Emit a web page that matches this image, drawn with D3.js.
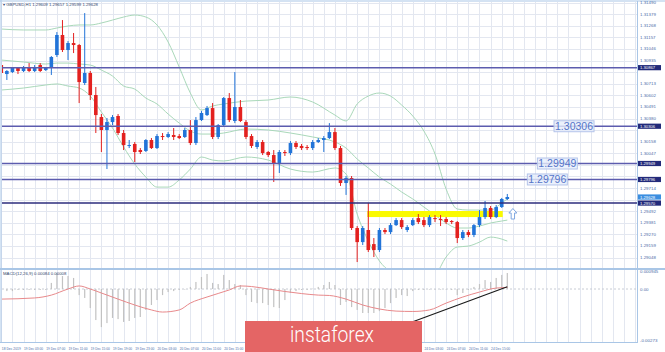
<!DOCTYPE html>
<html lang="en">
  <head>
    <meta charset="utf-8" />
    <title>GBPUSD H1</title>
    <script src="https://d3js.org/d3.v7.min.js"></script>
    <style>
      body {
        margin: 0;
        background-color: #ffffff;
        font-family: "Liberation Sans", Arial, sans-serif;
      }
      svg {
        display: block;
      }
    </style>
  </head>
  <body>
    <div id="chart"></div>
    <script>
      // hourly candles, GBPUSD
      const open = [1.30892,1.30806,1.30825,1.30864,1.30835,1.30873,1.30835,1.30892,1.30844,1.30864,
        1.30988,1.31180,1.31036,1.31103,1.31084,1.30720,1.30816,1.30605,1.30394,1.30270,
        1.30346,1.30404,1.30241,1.30117,1.30136,1.30078,1.30069,1.30174,1.30097,1.30212,
        1.30203,1.30222,1.30212,1.30203,1.30270,1.30145,1.30365,1.30413,1.30480,1.30203,
        1.30317,1.30576,1.30356,1.30490,1.30346,1.30212,1.30107,1.30155,1.30059,1.30030,
        1.29954,1.30059,1.30049,1.30145,1.30117,1.30107,1.30097,1.30155,1.30174,1.30193,
        1.30250,1.30097,1.29762,1.29810,1.29331,1.29196,1.29312,1.29177,1.29120,1.29312,
        1.29292,1.29359,1.29407,1.29312,1.29359,1.29426,1.29407,1.29359,1.29426,1.29417,
        1.29417,1.29398,1.29388,1.29235,1.29292,1.29264,1.29359,1.29436,1.29523,1.29436,
        1.29532,1.29609];
      const high = [1.30902,1.30844,1.30873,1.30873,1.30883,1.30911,1.30892,1.30911,1.30873,1.30978,
        1.31208,1.31323,1.31122,1.31199,1.31093,1.31390,1.30835,1.30682,1.30423,1.30385,
        1.30413,1.30423,1.30270,1.30174,1.30155,1.30097,1.30183,1.30193,1.30231,1.30241,
        1.30250,1.30289,1.30231,1.30289,1.30365,1.30394,1.30452,1.30500,1.30528,1.30327,
        1.30586,1.30624,1.30825,1.30557,1.30365,1.30231,1.30174,1.30174,1.30069,1.30078,
        1.30078,1.30078,1.30164,1.30164,1.30136,1.30126,1.30174,1.30193,1.30212,1.30336,
        1.30289,1.30117,1.29829,1.29829,1.29350,1.29350,1.29571,1.29235,1.29331,1.29331,
        1.29379,1.29426,1.29426,1.29359,1.29426,1.29465,1.29436,1.29455,1.29455,1.29455,
        1.29436,1.29407,1.29398,1.29312,1.29312,1.29369,1.29503,1.29590,1.29542,1.29551,
        1.29619,1.29657];
      const low = [1.30806,1.30749,1.30816,1.30806,1.30825,1.30825,1.30825,1.30825,1.30835,1.30797,
        1.30969,1.31017,1.30940,1.31007,1.30528,1.30701,1.30557,1.30241,1.30059,1.29896,
        1.30317,1.30222,1.30078,1.30097,1.29963,1.30040,1.30059,1.30088,1.30088,1.30174,
        1.30193,1.30174,1.30183,1.30193,1.30126,1.30126,1.30356,1.30404,1.30183,1.30183,
        1.30308,1.30346,1.30336,1.30346,1.30183,1.30097,1.30088,1.30030,1.30011,1.29772,
        1.29858,1.30021,1.30030,1.30088,1.30078,1.30078,1.30078,1.30145,1.30059,1.30183,
        1.30078,1.29734,1.29648,1.29312,1.29005,1.29168,1.29101,1.29053,1.29101,1.29273,
        1.29273,1.29350,1.29321,1.29292,1.29350,1.29369,1.29340,1.29340,1.29388,1.29350,
        1.29369,1.29369,1.29187,1.29216,1.29244,1.29244,1.29340,1.29417,1.29417,1.29426,
        1.29523,1.29599];
      const close = [1.30816,1.30835,1.30864,1.30835,1.30864,1.30835,1.30873,1.30835,1.30864,1.30969,
        1.31180,1.31036,1.31103,1.31084,1.30729,1.30816,1.30605,1.30413,1.30270,1.30346,
        1.30394,1.30241,1.30126,1.30126,1.30059,1.30059,1.30174,1.30097,1.30212,1.30203,
        1.30231,1.30203,1.30193,1.30270,1.30145,1.30365,1.30433,1.30480,1.30203,1.30317,
        1.30576,1.30365,1.30490,1.30356,1.30203,1.30117,1.30155,1.30049,1.30030,1.29954,
        1.30059,1.30049,1.30145,1.30107,1.30097,1.30097,1.30155,1.30174,1.30193,1.30250,
        1.30097,1.29762,1.29810,1.29331,1.29196,1.29331,1.29120,1.29120,1.29312,1.29292,
        1.29359,1.29407,1.29340,1.29340,1.29407,1.29388,1.29359,1.29436,1.29417,1.29407,
        1.29388,1.29388,1.29235,1.29292,1.29264,1.29359,1.29436,1.29523,1.29436,1.29532,
        1.29609,1.29628];

      // Bollinger bands, read at these candles
      const bandIdx = [0,4,8,10,12,14,16,18,20,22,24,26,28,30,32,34,36,38,40,44,
        48,52,56,60,62,64,66,68,70,72,74,76,78,80,82,84,86,88,90,91];
      const bbUpper = [1.31237,1.31228,1.31228,1.31247,1.31266,1.31276,1.31276,1.31295,1.31323,1.31352,
        1.31371,1.31352,1.31276,1.31113,1.30873,1.30624,1.30461,1.30500,1.30519,1.30547,
        1.30557,1.30586,1.30538,1.30413,1.30356,1.30519,1.30595,1.30624,1.30595,1.30509,
        1.30404,1.30260,1.30040,1.29704,1.29513,1.29503,1.29503,1.29503,1.29571,1.29609];
      const bbMiddle = [1.30940,1.30921,1.30902,1.30911,1.30911,1.30902,1.30892,1.30844,1.30787,1.30691,
        1.30662,1.30576,1.30519,1.30423,1.30336,1.30260,1.30231,1.30231,1.30241,1.30279,
        1.30270,1.30241,1.30203,1.30155,1.30097,1.29992,1.29906,1.29819,1.29752,1.29676,
        1.29609,1.29532,1.29455,1.29379,1.29331,1.29331,1.29350,1.29379,1.29398,1.29407];
      const bbLower = [1.30653,1.30672,1.30701,1.30711,1.30691,1.30672,1.30595,1.30442,1.30289,1.30107,
        1.29944,1.29819,1.29723,1.29723,1.29791,1.29896,1.30011,1.29982,1.29973,1.30011,
        1.29982,1.29896,1.29867,1.29906,1.29848,1.29465,1.29206,1.29015,1.28909,1.28842,
        1.28804,1.28804,1.28871,1.29053,1.29149,1.29158,1.29196,1.29244,1.29225,1.29206];

      const levels = [1.30867, 1.30306, 1.29949, 1.29796, 1.29570];
      const levelTags = ["1.30306", "1.29949", "1.29796"];
      const zoneIdx = [66, 90];
      const zonePrice = [1.29494, 1.29436];

      const priceTicks = [1.31490,1.31379,1.31268,1.31157,1.31046,1.30935,1.30824,1.30713,1.30602,1.30491,
        1.30380,1.30269,1.30158,1.30047,1.29936,1.29825,1.29714,1.29603,1.29492,1.29381,
        1.29270,1.29159,1.29048];

      // MACD(12,26,9): main as histogram, signal as line
      const macdHist = [-0.00016,-0.00011,-0.00011,-0.00005,-0.00005,-0.00005,-0.00005,-0.00005,-0.00005,0.00032,
        0.00084,0.00068,0.00068,0.00058,-0.00032,-0.00047,-0.00100,-0.00163,-0.00200,-0.00179,
        -0.00152,-0.00158,-0.00173,-0.00168,-0.00152,-0.00147,-0.00110,-0.00084,-0.00058,-0.00032,
        -0.00016,-0.00011,-0.00005,-0.00003,0.00011,0.00037,0.00063,0.00079,0.00032,0.00026,
        0.00074,0.00047,0.00026,0.00021,-0.00032,-0.00068,-0.00074,-0.00074,-0.00084,-0.00095,
        -0.00100,-0.00058,-0.00021,-0.00011,-0.00005,-0.00005,0.00002,0.00011,0.00021,0.00037,
        0.00021,-0.00084,-0.00068,-0.00095,-0.00110,-0.00126,-0.00126,-0.00126,-0.00116,-0.00100,
        -0.00074,-0.00047,-0.00032,-0.00037,-0.00011,-0.00005,-0.00005,-0.00003,-0.00003,-0.00003,
        -0.00003,-0.00005,-0.00032,-0.00021,-0.00005,0.00011,0.00026,0.00047,0.00037,0.00058,
        0.00074,0.00084];
      const signalIdx = [0,6,9,12,14,16,18,21,24,27,29,32,34,37,41,43,45,48,51,54,
        57,59,62,65,68,71,74,77,80,83,86,89,91];
      const macdSignal = [-0.00053,-0.00047,-0.00032,0.00000,0.00016,0.00000,-0.00021,-0.00053,-0.00084,-0.00110,
        -0.00121,-0.00110,-0.00074,-0.00042,-0.00005,0.00016,0.00013,0.00000,-0.00013,-0.00024,
        -0.00032,-0.00034,-0.00053,-0.00084,-0.00105,-0.00116,-0.00118,-0.00110,-0.00074,-0.00042,
        -0.00016,0.00005,0.00008];
      const trendIdx = [70, 91];
      const trendVal = [-0.00215, 0.00012];

      const timeIdx = [0,4,8,12,16,20,24,28,32,36,40,44,48,52,56,60,64,68,72,76,80,84,88];
      const timeLabels = ["18 Dec 2019","19 Dec 03:00","19 Dec 07:00","19 Dec 11:00","19 Dec 15:00",
        "19 Dec 19:00","19 Dec 23:00","20 Dec 03:00","20 Dec 07:00","20 Dec 11:00","20 Dec 15:00",
        "20 Dec 19:00","20 Dec 23:00","23 Dec 03:00","23 Dec 07:00","23 Dec 11:00","23 Dec 15:00",
        "23 Dec 19:00","23 Dec 23:00","24 Dec 03:00","24 Dec 07:00","24 Dec 11:00","24 Dec 15:00"];

      const width = 665, height = 352;
      const axisX = 637;

      const svg = d3
        .select("#chart")
        .append("svg")
        .attr("width", width)
        .attr("height", height);

      svg.append("rect").attr("width", width).attr("height", height).attr("fill", "#ffffff");

      const x = d3.scaleLinear().domain([0, 91]).range([1.3, 507.3]);
      const y = d3.scaleLinear().domain([1.28948, 1.31496]).range([268, 2]);
      const ym = d3.scaleLinear().domain([-0.00273, 0.000945]).range([341, 271]);

      const defs = svg.append("defs");
      defs.append("clipPath").attr("id", "clipMain")
        .append("rect").attr("x", 2).attr("y", 2).attr("width", axisX - 2).attr("height", 266);
      defs.append("clipPath").attr("id", "clipMacd")
        .append("rect").attr("x", 2).attr("y", 270).attr("width", axisX - 2).attr("height", 72);

      // grid
      const grid = svg.append("g").attr("stroke", "#e3e7f0").attr("stroke-width", 1);
      grid.selectAll(".gv")
        .data(d3.range(0, 116, 2))
        .join("line")
        .attr("x1", (d) => Math.round(x(d)) + 0.5)
        .attr("x2", (d) => Math.round(x(d)) + 0.5)
        .attr("y1", 2)
        .attr("y2", 342);
      grid.selectAll(".gh")
        .data(priceTicks)
        .join("line")
        .attr("x1", 2)
        .attr("x2", axisX)
        .attr("y1", (d) => Math.round(y(d)) + 0.5)
        .attr("y2", (d) => Math.round(y(d)) + 0.5);

      const main = svg.append("g").attr("clip-path", "url(#clipMain)");

      // bollinger bands
      const bandLine = d3.line()
        .x((d) => x(d[0]))
        .y((d) => y(d[1]))
        .curve(d3.curveMonotoneX);
      [bbUpper, bbMiddle, bbLower].forEach((band) => {
        main.append("path")
          .datum(bandIdx.map((d, i) => [d, band[i]]))
          .attr("d", bandLine)
          .attr("fill", "none")
          .attr("stroke", "#a9d8b9")
          .attr("stroke-width", 1);
      });

      // yellow zone
      main.append("rect")
        .attr("x", x(zoneIdx[0]) - 1)
        .attr("y", y(zonePrice[0]))
        .attr("width", x(zoneIdx[1]) - x(zoneIdx[0]) + 2)
        .attr("height", y(zonePrice[1]) - y(zonePrice[0]))
        .attr("fill", "#fafa00");

      // candles
      const candles = main.selectAll(".candle")
        .data(d3.range(open.length))
        .join("g");
      const col = (i) => (close[i] >= open[i] ? "#2274d8" : "#e3211f");
      candles.append("line")
        .attr("x1", (i) => x(i))
        .attr("x2", (i) => x(i))
        .attr("y1", (i) => y(high[i]))
        .attr("y2", (i) => y(low[i]))
        .attr("stroke", col)
        .attr("stroke-width", 1);
      candles.append("rect")
        .attr("x", (i) => x(i) - 1.8)
        .attr("width", 3.6)
        .attr("y", (i) => y(Math.max(open[i], close[i])))
        .attr("height", (i) => Math.max(1, Math.abs(y(open[i]) - y(close[i]))))
        .attr("fill", col);

      // horizontal levels
      main.selectAll(".level")
        .data(levels)
        .join("line")
        .attr("x1", 2)
        .attr("x2", axisX)
        .attr("y1", (d) => y(d))
        .attr("y2", (d) => y(d))
        .attr("stroke", (d, i) => (i === 4 ? "#2c2c7c" : "#5c5cae"))
        .attr("stroke-width", 1.5);

      // level tags
      const tagAt = [103, 100, 98.2];
      levelTags.forEach((t, i) => {
        const cx = x(tagAt[i]);
        const cy = y(levels[i + 1]);
        svg.append("rect")
          .attr("x", cx - 20)
          .attr("y", cy - 5.5)
          .attr("width", 40)
          .attr("height", 11)
          .attr("fill", "#e6edfb")
          .attr("fill-opacity", 0.8)
          .attr("stroke", "#b4c4ea")
          .attr("stroke-width", 1);
        svg.append("text")
          .attr("x", cx)
          .attr("y", cy + 3.8)
          .attr("text-anchor", "middle")
          .style("font-size", "10.5px")
          .style("fill", "#5575c8")
          .text(t);
      });

      // arrow
      const ax = x(92), ay = y(1.29465);
      svg.append("path")
        .attr("d", `M${ax},${ay - 5.5} L${ax + 4},${ay - 1} L${ax + 1.7},${ay - 1} L${ax + 1.7},${ay + 5} L${ax - 1.7},${ay + 5} L${ax - 1.7},${ay - 1} L${ax - 4},${ay - 1} Z`)
        .attr("fill", "#ffffff")
        .attr("stroke", "#7fa7e0")
        .attr("stroke-width", 1);

      // MACD panel
      const macd = svg.append("g").attr("clip-path", "url(#clipMacd)");
      macd.append("line")
        .attr("x1", 2).attr("x2", axisX)
        .attr("y1", ym(0)).attr("y2", ym(0))
        .attr("stroke", "#c8ccd4")
        .attr("stroke-dasharray", "2,2");
      macd.selectAll(".bar")
        .data(macdHist)
        .join("rect")
        .attr("x", (d, i) => x(i) - 0.6)
        .attr("width", 1.2)
        .attr("y", (d) => ym(Math.max(0, d)))
        .attr("height", (d) => Math.max(0.5, Math.abs(ym(d) - ym(0))))
        .attr("fill", "#c2c2c2");
      macd.append("path")
        .datum(signalIdx.map((d, i) => [d, macdSignal[i]]))
        .attr("d", d3.line().x((d) => x(d[0])).y((d) => ym(d[1])).curve(d3.curveMonotoneX))
        .attr("fill", "none")
        .attr("stroke", "#e8898b")
        .attr("stroke-width", 1);
      macd.append("line")
        .attr("x1", x(trendIdx[0])).attr("y1", ym(trendVal[0]))
        .attr("x2", x(trendIdx[1])).attr("y2", ym(trendVal[1]))
        .attr("stroke", "#1a1a1a")
        .attr("stroke-width", 1.2);

      // frame
      const frame = svg.append("g").attr("stroke", "#a9c6e6").attr("fill", "none");
      frame.append("line").attr("x1", 1).attr("x2", 1).attr("y1", 0).attr("y2", 343);
      frame.append("line").attr("x1", 0).attr("x2", width).attr("y1", 1).attr("y2", 1);
      frame.append("line").attr("x1", axisX + 0.5).attr("x2", axisX + 0.5).attr("y1", 1).attr("y2", 343);
      frame.append("line").attr("x1", 0).attr("x2", width).attr("y1", 269).attr("y2", 269).attr("stroke-width", 2);
      frame.append("line").attr("x1", 0).attr("x2", axisX).attr("y1", 342.5).attr("y2", 342.5);

      // price axis
      const tagged = levels.concat([close[close.length - 1]]);
      svg.append("g")
        .selectAll("text")
        .data(priceTicks.filter((p) => tagged.every((q) => Math.abs(y(p) - y(q)) > 5.5)))
        .join("text")
        .attr("x", axisX + 3)
        .attr("y", (d) => y(d) + 1.5)
        .style("font-size", "4.4px")
        .style("fill", "#4d6ca8")
        .text((d) => d.toFixed(5));

      const tagBox = (p, fill) => {
        svg.append("rect")
          .attr("x", axisX + 1)
          .attr("y", y(p) - 2.6)
          .attr("width", 23)
          .attr("height", 5.2)
          .attr("fill", fill);
        svg.append("text")
          .attr("x", axisX + 3)
          .attr("y", y(p) + 1.5)
          .style("font-size", "4.2px")
          .style("fill", "#ffffff")
          .text(p.toFixed(5));
      };
      levels.forEach((p) => tagBox(p, "#222a7a"));
      tagBox(close[close.length - 1], "#3a8ee0");

      // MACD axis
      [[0.000945, "0.000945"], [0, "0.00"], [-0.00273, "-0.00273"]].forEach((d) => {
        svg.append("text")
          .attr("x", axisX + 3)
          .attr("y", Math.min(ym(d[0]) + 2, 342))
          .style("font-size", "4.4px")
          .style("fill", "#4d6ca8")
          .text(d[1]);
      });

      // titles
      svg.append("text")
        .attr("x", 3)
        .attr("y", 5.5)
        .style("font-size", "4.3px")
        .style("fill", "#33456e")
        .text("\u25BE GBPUSD,H1  1.29609  1.29657  1.29599  1.29628");
      svg.append("text")
        .attr("x", 3)
        .attr("y", 274.5)
        .style("font-size", "4.3px")
        .style("fill", "#33456e")
        .text("MACD(12,26,9) 0.00084 0.00008");

      // time axis
      svg.append("g")
        .selectAll("text")
        .data(timeIdx)
        .join("text")
        .attr("x", (d) => x(d) + 0.5)
        .attr("y", 349.5)
        .attr("textLength", 19)
        .attr("lengthAdjust", "spacingAndGlyphs")
        .style("font-size", "3.8px")
        .style("fill", "#4d6ca8")
        .text((d, i) => timeLabels[i]);

      // watermark
      svg.append("rect")
        .attr("x", 245)
        .attr("y", 321)
        .attr("width", 177)
        .attr("height", 31)
        .attr("fill", "#e46565");
      svg.append("text")
        .attr("x", 290)
        .attr("y", 341.5)
        .attr("textLength", 84)
        .attr("lengthAdjust", "spacingAndGlyphs")
        .style("font-family", "Roboto, 'Open Sans', sans-serif")
        .style("font-weight", 300)
        .style("font-size", "22px")
        .style("fill", "#ffffff")
        .text("instaforex");
    </script>
  </body>
</html>
